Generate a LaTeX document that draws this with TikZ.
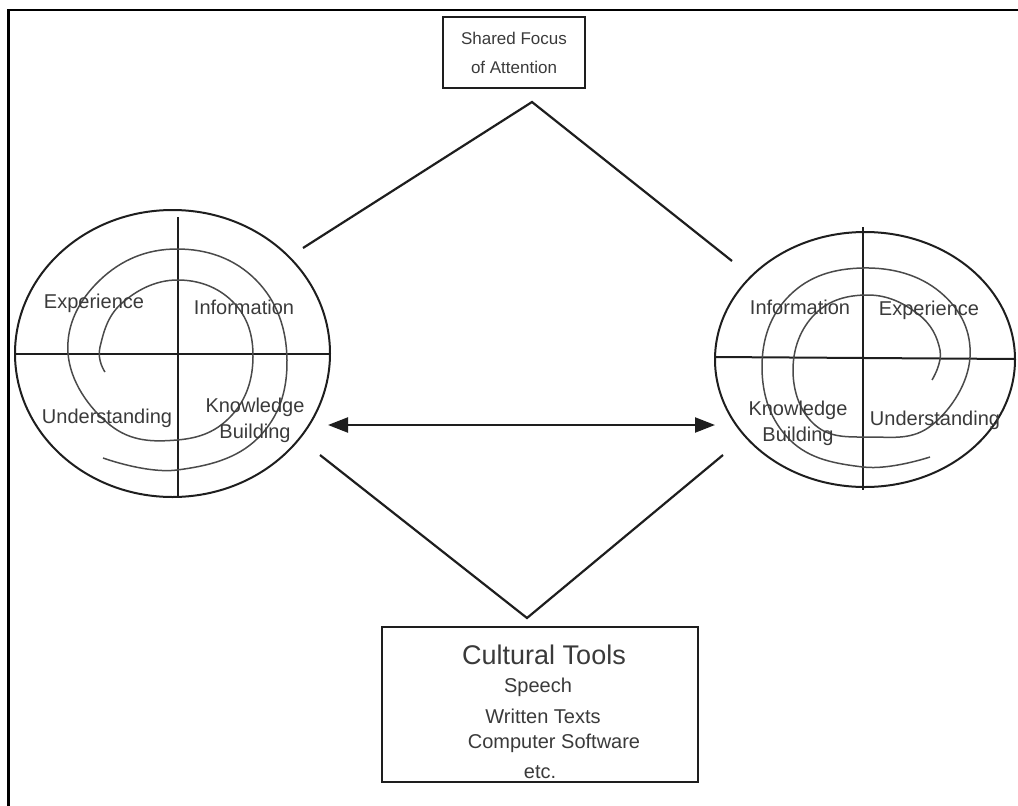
\documentclass[tikz,border=0pt]{standalone}
\usepackage{fontspec}
\setmainfont{Liberation Sans}
\usetikzlibrary{arrows.meta,shapes.geometric}
\definecolor{ink}{HTML}{1E1E1E}
\definecolor{txt}{HTML}{3A3A3A}
\definecolor{spir}{HTML}{4A4A4A}
\begin{document}
\begin{tikzpicture}[x=1pt,y=-1pt,
  frame/.style={line width=2.6pt, draw=black},
  outline/.style={ellipse, draw=ink, line width=2pt, inner sep=0pt},
  axisline/.style={line width=2pt, draw=ink},
  spiral/.style={line width=1.5pt, draw=spir},
  link/.style={line width=2.2pt, draw=ink},
  lbl/.style={font=\fontsize{20}{22}\selectfont, text=txt, inner sep=0pt},
  boxnode/.style={draw=ink, line width=2pt, rectangle, inner sep=0pt}]
\useasboundingbox (0,0) rectangle (1018,806);
\draw[frame] (1018,10) -- (8.5,10) -- (8.5,806);

% boxes
\node[boxnode, minimum width=142pt, minimum height=71pt, align=center,
  font=\fontsize{17}{29}\selectfont, text=txt] (focus) at (514,52.5) {Shared Focus\\of Attention};
\node[boxnode, minimum width=316pt, minimum height=155pt] (tools) at (540,704.5) {};
\node[lbl, font=\fontsize{27}{30}\selectfont] (ct) at (544,655) {Cultural Tools};
\node[lbl] (sp) at (538,687) {Speech};
\node[lbl] (wt) at (543,716) {Written Texts};
\node[lbl] (cs) at (554,743) {Computer Software};
\node[lbl] (etc) at (540,772) {etc.};

% left circle
\node[outline, minimum width=315pt, minimum height=287pt] (L) at (172.5,353.5) {};
\draw[axisline] (L.west) -- (L.east);
\draw[axisline] (178,217) -- (178,496);
\draw[spiral] plot[smooth, tension=0.7] coordinates {
  (105,372) (100,347) (122,303) (177,280) (233,302) (253,357) (232,415)
  (177,440) (110,425) (68,353) (100,280) (177,249) (256,280) (287,360)
  (258,438) (177,470) (103,458)};
\node[lbl] (le) at (94,303) {Experience};
\node[lbl] (li) at (244,307) {Information};
\node[lbl] (lu) at (107,418) {Understanding};
\node[lbl, align=center, font=\fontsize{20}{26}\selectfont] (lk) at (255,420) {Knowledge\\Building};

% right circle
\node[outline, minimum width=300pt, minimum height=255pt] (R) at (865,359.5) {};
\draw[axisline] (715,357) -- (1015,359);
\draw[axisline] (863,227) -- (863,490);
\draw[spiral] plot[smooth, tension=0.7] coordinates {
  (932,380) (940,350) (918,314) (868,295) (815,314) (793,370) (815,425)
  (870,437) (932,425) (970,357) (940,292) (863,268) (790,295) (762,367)
  (790,440) (863,467) (930,457)};
\node[lbl] (ri) at (800,307) {Information};
\node[lbl] (re) at (929,310) {Experience};
\node[lbl, align=center, font=\fontsize{20}{26}\selectfont] (rk) at (798,423) {Knowledge\\Building};
\node[lbl] (ru) at (935,420) {Understanding};

% connectors
\coordinate (tl) at (303,248);
\coordinate (tapex) at (532,102);
\coordinate (tr) at (732,261);
\coordinate (bl) at (320,455);
\coordinate (bapex) at (527,618);
\coordinate (br) at (723,455);
\coordinate (al) at (328,425);
\coordinate (ar) at (715,425);
\draw[link] (tl) -- (tapex) -- (tr);
\draw[link] (bl) -- (bapex) -- (br);
\draw[link, {Triangle[length=20pt,width=15pt]}-{Triangle[length=20pt,width=15pt]}] (al) -- (ar);
\end{tikzpicture}
\end{document}
